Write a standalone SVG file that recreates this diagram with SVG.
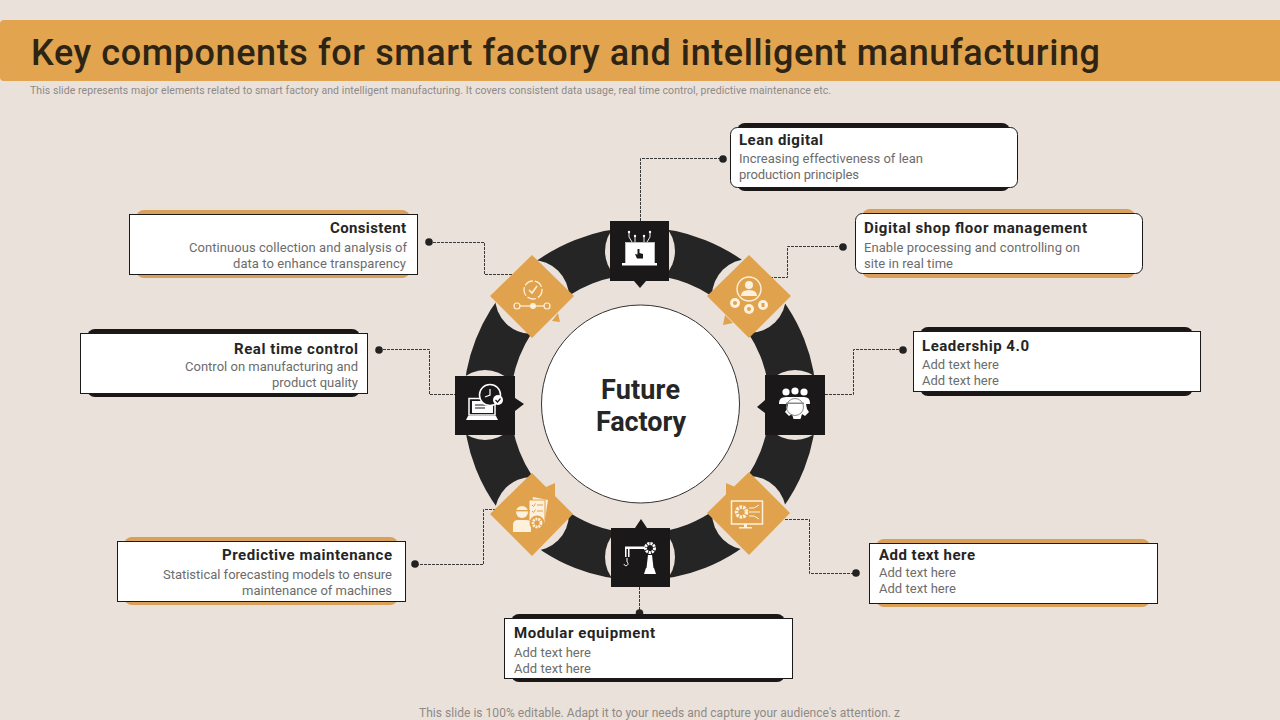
<svg xmlns="http://www.w3.org/2000/svg" width="1280" height="720" viewBox="0 0 1280 720">
<style>
text{font-family:"Roboto","Liberation Sans",sans-serif}
.h{font-size:15px;font-weight:700;fill:#252525}
.b{font-size:13px;fill:#6c6c6c}
.c{fill:#fff;stroke:#1a1a1a;stroke-width:1}
.k{fill:#1a1716}
.o{fill:#d9a05a}
.d{fill:none;stroke:#3a3a3a;stroke-width:1;stroke-dasharray:3 1}
.dot{fill:#222}
.sq{fill:#1a1818}
.di{fill:#e0a24d}
.w{fill:#fff}
.y{fill:#fdf0dc}
.ys{fill:none;stroke:#fdf0dc;stroke-width:1.4}
.halo{fill:#eae1db}
</style>
<rect width="1280" height="720" fill="#eae1db"/>
<g id="header">
<path d="M4 20H1280V81H4a4 4 0 0 1-4-4V24a4 4 0 0 1 4-4z" fill="#e2a44e"/>
<text x="31" y="65" font-size="36" font-weight="500" fill="#2e2415" textLength="1069" lengthAdjust="spacing">Key components for smart factory and intelligent manufacturing</text>
<text x="30" y="94" font-size="10.5" fill="#8f8a85" textLength="801" lengthAdjust="spacing">This slide represents major elements related to smart factory and intelligent manufacturing. It covers consistent data usage, real time control, predictive maintenance etc.</text>
</g>
<g id="ring">
<circle cx="640" cy="404" r="153" fill="none" stroke="#252525" stroke-width="47"/>
<circle class="halo" cx="640" cy="251" r="35"/>
<circle class="halo" cx="795" cy="405" r="35"/>
<circle class="halo" cx="485" cy="405" r="35"/>
<circle class="halo" cx="640" cy="557" r="35"/>
<circle class="halo" cx="749" cy="296" r="37"/>
<circle class="halo" cx="532" cy="297" r="37"/>
<circle class="halo" cx="532" cy="514" r="37"/>
<circle class="halo" cx="749" cy="513" r="37"/>
</g>
<g id="connectors">
<path class="d" d="M640.500 221V158.500H723"/>
<path class="d" d="M770 277.500H787.500V246.500H843"/>
<path class="d" d="M825 394.500H853.500V349.500H903"/>
<path class="d" d="M785 519.500H809.500V573.500H856"/>
<path class="d" d="M639.500 587V613"/>
<path class="d" d="M496 509.500H483.500V564.500H415"/>
<path class="d" d="M429 242.500H484.500V274.500H513"/>
<path class="d" d="M379 349.500H429.500V394.500H455"/>
<circle class="dot" cx="723" cy="159" r="3.800"/>
<circle class="dot" cx="843" cy="247" r="3.800"/>
<circle class="dot" cx="903" cy="350" r="3.800"/>
<circle class="dot" cx="856" cy="573" r="3.800"/>
<circle class="dot" cx="639.500" cy="613" r="3.800"/>
<circle class="dot" cx="415" cy="564" r="3.800"/>
<circle class="dot" cx="429" cy="242" r="3.800"/>
<circle class="dot" cx="379" cy="350" r="3.800"/>
</g>
<g id="center">
<circle cx="640.500" cy="404" r="99" fill="#fff" stroke="#333" stroke-width="1"/>
<text x="601" y="399" font-size="27" font-weight="700" fill="#262626" textLength="79" lengthAdjust="spacing">Future</text>
<text x="596" y="431" font-size="27" font-weight="700" fill="#262626" textLength="90" lengthAdjust="spacing">Factory</text>
</g>
<g id="node-lean-digital-icon">
<rect class="sq" x="610" y="221" width="59" height="60"/>
<path class="sq" d="M634 281H646L640 288z"/>
<rect x="625.500" y="242.500" width="29" height="21" fill="#fff" stroke="#bbb" stroke-width="1"/>
<rect x="622" y="263" width="35" height="2.500" fill="#fff"/>
<path d="M637.500 249h2v4l3.500 1v4.500h-6l-2-4.500 2.500 .5z" fill="#1a1818"/>
<path d="M629 233v4l3 5M635 236v6M644 236v6M650 233v4l-3 5" fill="none" stroke="#fff" stroke-width=".9"/>
<circle class="w" cx="629" cy="232" r="1.200"/><circle class="w" cx="635" cy="236" r="1.200"/><circle class="w" cx="644" cy="236" r="1.200"/><circle class="w" cx="650" cy="232" r="1.200"/>
</g>
<g id="node-digital-shop-icon">
<path class="di" d="M749 255L791 296L749 338L707 296z"/>
<path class="di" d="M725 315L723 325L733 323z"/>
<circle class="ys" cx="749" cy="289" r="12"/>
<circle class="y" cx="749" cy="285" r="4"/>
<path class="y" d="M741 296q0-6 8-6t8 6z"/>
<circle class="y" cx="735" cy="303" r="5"/><circle class="y" cx="749" cy="309" r="5"/><circle class="y" cx="763" cy="305" r="5"/>
<circle cx="735" cy="303" r="2" fill="#e0a24d"/><circle cx="749" cy="309" r="2" fill="#e0a24d"/><rect x="761.500" y="303" width="3" height="4" fill="#e0a24d"/>
</g>
<g id="node-leadership-icon">
<rect class="sq" x="765" y="375" width="60" height="60"/>
<path class="sq" d="M765 400V413L757 407z"/>
<circle class="w" cx="786" cy="392" r="3.600"/><circle class="w" cx="795" cy="391" r="3.600"/><circle class="w" cx="804" cy="392" r="3.600"/>
<path class="w" d="M779 403q0-6 7-6h18q6 0 6 6v1h-4l1 5 2 3-4 4-3-2-1.500 5h-7l-1.500-5-3 2-4-4 2-3 1-5h-9z"/>
<circle cx="795" cy="407" r="8.500" fill="none" stroke="#8a8a8a" stroke-width="1"/>
<rect x="786" y="402.500" width="18" height="1.500" fill="#8a8a8a"/>
</g>
<g id="node-add-text-icon">
<path class="di" d="M749 472L790 513L749 555L707 513z"/>
<path class="di" d="M735 487L726 483L726 497z"/>
<rect x="731.500" y="501" width="31" height="23" fill="none" stroke="#fdf0dc" stroke-width="1.500"/>
<path class="y" d="M744 524h3v3h5v1.500h-13V527h5z"/>
<circle cx="741.500" cy="512" r="5" fill="none" stroke="#fdf0dc" stroke-width="3.500" stroke-dasharray="2.500 1"/>
<path d="M749 508h5l5-3M749 512h11M749 516h5l5 3" fill="none" stroke="#fdf0dc" stroke-width="1"/>
</g>
<g id="node-modular-icon">
<rect class="sq" x="611" y="528" width="59" height="59"/>
<path class="sq" d="M635 528H647L641 519z"/>
<path class="w" d="M625 546.500h20v2.500h-20z"/>
<path class="w" d="M625 549h1.500v8H625zM628 549h1.500v8H628z"/>
<path d="M627 558v4a2 2 0 1 1-3 2" fill="none" stroke="#fff" stroke-width="1"/>
<circle cx="650" cy="548" r="4.500" fill="none" stroke="#fff" stroke-width="3" stroke-dasharray="2.200 .8"/>
<path class="w" d="M648 555h4l1.500 13h-7z"/>
<path class="w" d="M646 568h8l2 6h-12z"/>
</g>
<g id="node-predictive-icon">
<path class="di" d="M532 473L573 514L532 556L490 514z"/>
<path class="di" d="M546 487L555 483L555 497z"/>
<path class="y" d="M533 497l15 3-3 19-15-3z"/>
<path d="M529 500h16v23h-16z" fill="#fdf0dc" stroke="#e0a24d" stroke-width="1"/>
<path d="M532 505l1.500 1.500 2-3M532 511l1.500 1.500 2-3M537 505h6M537 511h6" fill="none" stroke="#e0a24d" stroke-width="1"/>
<circle class="y" cx="522" cy="512" r="6"/>
<rect x="513" y="510" width="17" height="1.400" fill="#e0a24d"/>
<path class="y" d="M513 532v-7q0-5 5-5h8q5 0 5 5v7z"/>
<circle cx="537" cy="523" r="7.500" fill="#e0a24d"/>
<circle cx="537" cy="523" r="4" fill="none" stroke="#fdf0dc" stroke-width="2.800" stroke-dasharray="2 .8"/>
</g>
<g id="node-real-time-icon">
<rect class="sq" x="455" y="376" width="60" height="59"/>
<path class="sq" d="M515 398V411L524 404z"/>
<rect x="469" y="398.500" width="26" height="16.500" fill="#1a1818" stroke="#fff" stroke-width="1.500"/>
<rect x="472" y="401" width="21" height="12" fill="#fff"/>
<path d="M475 405h13M475 408h10" stroke="#1a1818" stroke-width="1"/>
<path class="w" d="M468 416h28l2 4h-32z"/>
<circle cx="490" cy="395" r="10.500" fill="#1a1818" stroke="#fff" stroke-width="1.500"/>
<path d="M490 389v6l-5 2" fill="none" stroke="#fff" stroke-width="1.200"/>
<circle class="w" cx="498" cy="400" r="5"/>
<path d="M495.500 400l2 2 3-3.500" fill="none" stroke="#1a1818" stroke-width="1.200"/>
</g>
<g id="node-consistent-icon">
<path class="di" d="M532 255L574 296L532 338L490 296z"/>
<path class="di" d="M558 313L560 322L552 321z"/>
<circle cx="533" cy="290" r="9" fill="none" stroke="#fdf0dc" stroke-width="1.300" stroke-dasharray="9 2"/>
<path d="M529 290l3 3 5-7" fill="none" stroke="#fdf0dc" stroke-width="1.500"/>
<path d="M520 306H544" stroke="#fdf0dc" stroke-width="1.200"/>
<circle cx="517" cy="306" r="3" fill="#e0a24d" stroke="#fdf0dc" stroke-width="1.200"/>
<circle cx="547" cy="306" r="3" fill="#e0a24d" stroke="#fdf0dc" stroke-width="1.200"/>
<circle class="y" cx="533" cy="306" r="3"/>
</g>
<g id="card-lean-digital">
<rect class="k" x="737" y="123" width="273" height="68" rx="8"/>
<rect class="c" x="730.500" y="127.500" width="287" height="60" rx="7"/>
<text class="h" x="739" y="145" textLength="84">Lean digital</text>
<text class="b" x="739" y="163" textLength="184">Increasing effectiveness of lean</text>
<text class="b" x="739" y="179" textLength="120">production principles</text>
</g>
<g id="card-digital-shop">
<rect class="o" x="862" y="209" width="273" height="69" rx="8"/>
<rect class="c" x="855.500" y="213.500" width="287" height="60" rx="7"/>
<text class="h" x="864" y="233" textLength="223">Digital shop floor management</text>
<text class="b" x="864" y="252" textLength="216">Enable processing and controlling on</text>
<text class="b" x="864" y="268" textLength="89">site in real time</text>
</g>
<g id="card-leadership">
<rect class="k" x="920" y="327" width="273" height="69" rx="8"/>
<rect class="c" x="913.500" y="331.500" width="287" height="60"/>
<text class="h" x="922" y="351" textLength="107">Leadership 4.0</text>
<text class="b" x="922" y="369" textLength="77">Add text here</text>
<text class="b" x="922" y="385" textLength="77">Add text here</text>
</g>
<g id="card-add-text">
<rect class="o" x="876" y="539" width="274" height="68" rx="8"/>
<rect class="c" x="869.500" y="543.500" width="288" height="60"/>
<text class="h" x="879" y="560" textLength="96">Add text here</text>
<text class="b" x="879" y="577" textLength="77">Add text here</text>
<text class="b" x="879" y="593" textLength="77">Add text here</text>
</g>
<g id="card-modular">
<rect class="k" x="511" y="614" width="274" height="68" rx="8"/>
<rect class="c" x="504.500" y="618.500" width="288" height="60"/>
<text class="h" x="514" y="638" textLength="141">Modular equipment</text>
<text class="b" x="514" y="657" textLength="77">Add text here</text>
<text class="b" x="514" y="673" textLength="77">Add text here</text>
</g>
<g id="card-predictive">
<rect class="o" x="124" y="537" width="274" height="68" rx="8"/>
<rect class="c" x="117.500" y="541.500" width="288" height="60"/>
<text class="h" x="222" y="560" textLength="170">Predictive maintenance</text>
<text class="b" x="163" y="579" textLength="229">Statistical forecasting models to ensure</text>
<text class="b" x="242" y="595" textLength="150">maintenance of machines</text>
</g>
<g id="card-real-time">
<rect class="k" x="87" y="329" width="273" height="68" rx="8"/>
<rect class="c" x="80.500" y="333.500" width="287" height="60"/>
<text class="h" x="234" y="354" textLength="124">Real time control</text>
<text class="b" x="185" y="371" textLength="173">Control on manufacturing and</text>
<text class="b" x="272" y="387" textLength="86">product quality</text>
</g>
<g id="card-consistent">
<rect class="o" x="136" y="210" width="274" height="68" rx="8"/>
<rect class="c" x="129.500" y="214.500" width="288" height="60"/>
<text class="h" x="330" y="233" textLength="76">Consistent</text>
<text class="b" x="189" y="252" textLength="218">Continuous collection and analysis of</text>
<text class="b" x="233" y="268" textLength="173">data to enhance transparency</text>
</g>
<text id="footer" x="419" y="717" font-size="12" fill="#8f8a85" textLength="481">This slide is 100% editable. Adapt it to your needs and capture your audience's attention. z</text>
</svg>
